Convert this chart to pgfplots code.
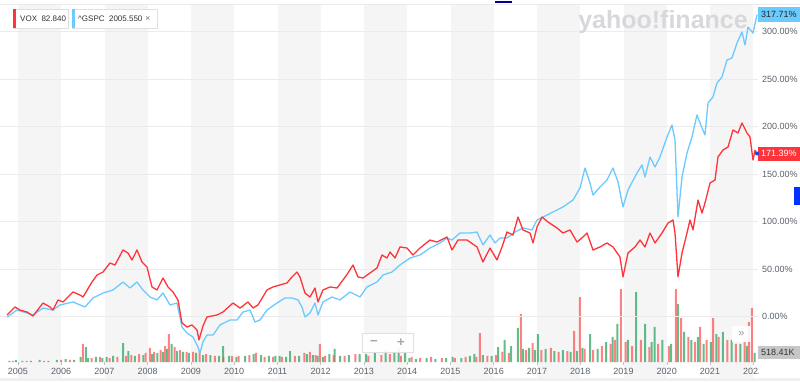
\documentclass[border=0pt]{standalone}
\usepackage{pgfplots}
\pgfplotsset{compat=1.18}
\usepackage{fontspec}
\setmainfont{Liberation Sans}
\definecolor{vox}{HTML}{FF333A}
\definecolor{spx}{HTML}{6BCBFF}
\definecolor{volg}{HTML}{1FA35A}
\definecolor{volr}{HTML}{FF4D4D}
\definecolor{band}{HTML}{F5F5F5}
\definecolor{gridc}{HTML}{EBEBEB}
\definecolor{ticktxt}{HTML}{5B636A}
\definecolor{wm}{HTML}{D8D8DC}
\begin{document}
\begin{tikzpicture}[x=1pt,y=1pt]
\path[use as bounding box] (0,-19) rectangle (800,362);
\fill[white] (0,-19) rectangle (800,362);
% alternating year bands (odd years)
\foreach \a in {18,104.5,191,277.5,364,450.5,537,623.5,710}{
  \fill[band] (\a,-16) rectangle ({\a+43.25},357);
}
\fill[gray!12] (0,-19) rectangle (800,-16);
\draw[gridc,line width=0.6pt] (0,357.5) -- (800,357.5);

% volume axis
\begin{axis}[at={(0,0)}, anchor=south west, scale only axis,
  width=758pt, height=357pt,
  xmin=2004.584, xmax=2022.110, ymin=0, ymax=20.56,
  hide axis, clip=true]
\addplot[ybar, bar width=2pt, bar shift=0pt, draw=none, fill=volg, fill opacity=0.7] coordinates {
(2004.80,0.06)(2004.95,0.12)(2005.10,0.06)(2005.30,0.06)(2005.50,0.12)(2005.70,0.06)(2005.90,0.12)(2006.10,0.17)(2006.30,0.12)
(2006.45,0.29)(2006.57,0.86)(2006.62,0.23)(2006.80,0.29)(2006.95,0.23)
(2007.05,0.29)(2007.20,0.35)(2007.43,1.09)(2007.55,0.63)(2007.70,0.35)(2007.90,0.40)
(2008.10,0.46)(2008.22,0.52)(2008.35,0.58)(2008.45,0.75)(2008.55,1.04)(2008.68,0.63)(2008.82,0.58)(2008.95,0.52)
(2009.12,0.52)(2009.28,0.40)(2009.45,0.40)(2009.65,0.35)(2009.74,0.92)(2009.88,0.35)
(2010.05,0.29)(2010.25,0.35)(2010.45,0.46)(2010.62,0.40)(2010.80,0.35)(2010.95,0.35)
(2011.05,0.35)(2011.20,0.29)(2011.29,0.63)(2011.50,0.35)(2011.68,0.46)(2011.82,0.40)(2011.93,0.35)
(2012.05,0.29)(2012.20,0.46)(2012.32,0.75)(2012.45,0.35)(2012.65,0.40)(2012.90,0.46)
(2013.05,0.46)(2013.25,0.52)(2013.50,0.69)(2013.70,0.58)(2013.80,0.81)(2013.95,0.58)
(2014.05,0.23)(2014.20,0.17)(2014.45,0.23)(2014.65,0.17)(2014.90,0.23)
(2015.05,0.29)(2015.25,0.23)(2015.45,0.35)(2015.55,0.46)(2015.75,0.40)(2015.95,0.35)
(2016.10,0.86)(2016.25,1.27)(2016.40,0.92)(2016.56,1.96)(2016.68,0.75)(2016.82,0.81)(2016.95,0.69)
(2017.02,1.61)(2017.20,0.75)(2017.40,0.63)(2017.60,0.69)(2017.78,0.58)(2017.92,0.63)
(2018.05,0.81)(2018.23,1.61)(2018.40,0.75)(2018.60,1.15)(2018.75,1.44)(2018.86,2.19)
(2019.10,1.27)(2019.29,4.03)(2019.50,2.19)(2019.65,1.15)(2019.72,2.02)(2019.90,1.27)
(2020.10,1.04)(2020.26,3.34)(2020.40,1.73)(2020.57,1.27)(2020.72,1.44)(2020.85,1.04)
(2021.02,1.15)(2021.15,1.61)(2021.30,1.73)(2021.50,1.27)(2021.70,1.04)(2021.85,0.92)(2022.03,0.52)
};
\addplot[ybar, bar width=2pt, bar shift=0pt, draw=none, fill=volr, fill opacity=0.7] coordinates {
(2004.88,0.06)(2005.20,0.06)(2005.60,0.06)(2006.00,0.12)(2006.20,0.12)
(2006.50,1.04)(2006.70,0.23)(2006.90,0.29)
(2007.12,0.23)(2007.30,0.29)(2007.50,0.35)(2007.62,0.40)(2007.80,0.46)(2007.95,0.52)
(2008.05,0.81)(2008.15,0.58)(2008.30,0.69)(2008.40,0.92)(2008.49,1.61)(2008.62,0.86)(2008.75,0.69)(2008.90,0.58)
(2009.05,0.58)(2009.20,0.69)(2009.35,0.46)(2009.55,0.35)(2009.75,0.29)(2009.95,0.35)
(2010.10,0.35)(2010.35,0.40)(2010.50,0.52)(2010.70,0.29)(2010.90,0.29)
(2011.10,0.29)(2011.40,0.35)(2011.62,0.52)(2011.75,0.58)(2011.88,0.40)(2011.98,1.04)
(2012.10,0.35)(2012.30,0.40)(2012.55,0.35)(2012.80,0.46)
(2013.10,0.35)(2013.40,0.40)(2013.60,0.46)(2013.85,0.35)
(2014.10,0.29)(2014.30,0.23)(2014.55,0.29)(2014.80,0.23)
(2015.10,0.23)(2015.35,0.29)(2015.60,0.29)(2015.68,1.67)(2015.85,0.35)
(2016.05,0.40)(2016.20,0.58)(2016.35,0.52)(2016.63,2.76)(2016.75,0.69)(2016.90,1.09)
(2017.10,0.69)(2017.32,0.81)(2017.50,0.58)(2017.70,0.63)(2017.86,1.79)(2017.99,3.74)
(2018.10,0.75)(2018.30,0.69)(2018.50,0.92)(2018.70,1.04)(2018.80,1.27)(2018.94,4.20)
(2019.05,1.15)(2019.20,0.92)(2019.40,1.27)(2019.60,0.86)(2019.80,1.04)
(2020.05,0.92)(2020.21,4.20)(2020.33,2.53)(2020.50,1.44)(2020.65,1.15)(2020.77,2.02)(2020.92,1.27)
(2021.07,2.53)(2021.20,1.44)(2021.40,1.27)(2021.60,1.04)(2021.80,1.15)(2021.90,2.30)(2021.97,3.11)
};
\end{axis}

% price axis
\begin{axis}[at={(0,0)}, anchor=south west, scale only axis,
  width=758pt, height=357pt,
  xmin=2004.584, xmax=2022.110, ymin=-47.9, ymax=327.9,
  axis line style={draw=none},
  xtick={2005,2006,2007,2008,2009,2010,2011,2012,2013,2014,2015,2016,2017,2018,2019,2020,2021,2022},
  xticklabels={2005,2006,2007,2008,2009,2010,2011,2012,2013,2014,2015,2016,2017,2018,2019,2020,2021,2022},
  xtick pos=bottom, tick align=outside, major tick length=3pt,
  xtick style={draw=ticktxt!40, line width=0.5pt},
  ytick={0,50,100,150,200,250,300},
  ytick style={draw=none},
  yticklabels={},
  ymajorgrids, major grid style={draw=gridc, line width=0.6pt},
  ticklabel style={font=\fontsize{9}{10}\selectfont, text=ticktxt},
  clip=true]
\addplot[spx, line width=1.3pt, line join=round] coordinates {
(2004.746,-0.5)(2004.977,6.8)(2005.208,3.7)(2005.347,1.6)(2005.578,8.9)(2005.809,6.8)(2005.971,12.1)
(2006.272,15.3)(2006.549,10.0)(2006.734,19.5)(2006.965,24.7)(2007.197,27.9)(2007.428,36.3)(2007.590,30.0)
(2007.751,36.3)(2007.890,27.9)(2008.052,20.5)(2008.214,17.4)(2008.353,24.7)(2008.514,12.1)(2008.676,14.2)
(2008.792,-11.1)(2008.908,-17.4)(2009.046,-21.6)(2009.162,-32.1)(2009.208,-38.4)(2009.277,-26.8)(2009.370,-19.5)
(2009.509,-19.5)(2009.671,-8.9)(2009.902,-3.7)(2010.064,-3.7)(2010.202,4.7)(2010.364,6.8)(2010.480,-5.8)
(2010.595,-3.7)(2010.757,6.8)(2010.988,14.2)(2011.173,19.5)(2011.335,19.5)(2011.474,17.4)(2011.566,10.0)
(2011.636,-0.5)(2011.751,3.7)(2011.867,14.2)(2011.936,1.6)(2012.052,15.3)(2012.260,20.5)(2012.445,17.4)
(2012.676,25.8)(2012.908,20.5)(2013.069,31.1)(2013.301,36.3)(2013.439,43.7)(2013.647,46.8)(2013.832,54.2)
(2014.064,61.6)(2014.295,64.7)(2014.526,72.1)(2014.757,77.4)(2014.919,82.6)(2015.035,80.5)(2015.220,87.9)
(2015.451,87.9)(2015.613,88.9)(2015.751,75.3)(2015.913,85.8)(2016.029,77.4)(2016.145,82.6)(2016.306,82.6)
(2016.491,88.9)(2016.676,93.2)(2016.884,91.1)(2017.000,101.6)(2017.139,104.7)(2017.370,110.0)(2017.601,115.3)
(2017.832,122.6)(2017.994,135.3)(2018.110,156.3)(2018.225,140.5)(2018.295,127.9)(2018.457,136.3)(2018.618,143.7)
(2018.757,156.3)(2018.873,141.6)(2018.988,115.3)(2019.104,133.2)(2019.312,151.1)(2019.428,159.5)(2019.497,146.8)
(2019.613,167.9)(2019.728,157.4)(2019.844,167.9)(2020.006,188.9)(2020.121,201.6)(2020.191,185.8)(2020.260,104.7)
(2020.353,146.8)(2020.468,172.1)(2020.584,188.9)(2020.699,212.1)(2020.815,198.4)(2020.884,191.1)(2020.954,224.7)
(2021.069,231.1)(2021.162,245.8)(2021.277,252.1)(2021.393,270.0)(2021.509,272.1)(2021.624,287.9)(2021.740,299.5)
(2021.809,285.8)(2021.879,304.7)(2021.994,298.4)(2022.087,317.71)
};
\addplot[vox, line width=1.3pt, line join=round] coordinates {
(2004.746,1.6)(2004.931,10.0)(2005.046,6.8)(2005.208,4.7)(2005.347,0.5)(2005.578,14.2)(2005.740,10.0)
(2005.809,6.8)(2005.925,17.4)(2006.040,15.3)(2006.272,25.8)(2006.434,22.6)(2006.503,20.5)(2006.711,36.3)
(2006.827,43.7)(2006.965,46.8)(2007.127,56.3)(2007.243,54.2)(2007.428,70.0)(2007.543,66.8)(2007.636,59.5)
(2007.751,70.0)(2007.867,57.4)(2007.983,52.1)(2008.098,31.1)(2008.214,27.9)(2008.353,40.5)(2008.468,31.1)
(2008.584,25.8)(2008.699,17.4)(2008.792,-6.8)(2008.908,-11.1)(2009.023,-8.9)(2009.139,-14.2)(2009.185,-24.7)
(2009.277,-10.0)(2009.370,-0.5)(2009.601,1.6)(2009.740,4.7)(2009.971,14.2)(2010.133,8.9)(2010.318,15.3)
(2010.434,8.9)(2010.549,12.1)(2010.757,27.9)(2010.896,31.1)(2011.058,33.2)(2011.220,35.3)(2011.335,41.6)
(2011.451,46.8)(2011.520,41.6)(2011.636,24.7)(2011.751,20.5)(2011.867,30.0)(2011.936,15.3)(2012.052,27.9)
(2012.214,31.1)(2012.376,30.0)(2012.514,38.4)(2012.630,45.8)(2012.746,54.2)(2012.861,41.6)(2012.977,40.5)
(2013.139,45.8)(2013.301,51.1)(2013.416,64.7)(2013.532,61.6)(2013.601,67.9)(2013.717,61.6)(2013.832,73.2)
(2013.994,72.1)(2014.133,64.7)(2014.295,72.1)(2014.526,80.5)(2014.688,78.4)(2014.919,83.7)(2015.035,70.0)
(2015.173,80.5)(2015.382,80.5)(2015.613,73.2)(2015.751,57.4)(2015.913,72.1)(2016.075,59.5)(2016.191,73.2)
(2016.306,88.9)(2016.445,85.8)(2016.561,104.7)(2016.676,91.1)(2016.838,87.9)(2016.908,77.4)(2017.000,94.2)
(2017.116,104.7)(2017.254,99.5)(2017.462,93.2)(2017.601,87.9)(2017.763,91.1)(2017.925,78.4)(2018.064,83.7)
(2018.156,87.9)(2018.295,70.0)(2018.457,73.2)(2018.618,77.4)(2018.757,73.2)(2018.919,62.6)(2018.988,41.6)
(2019.104,66.8)(2019.266,73.2)(2019.382,80.5)(2019.497,73.2)(2019.613,87.9)(2019.728,77.4)(2019.890,87.9)
(2020.029,98.4)(2020.145,101.6)(2020.191,87.9)(2020.260,41.6)(2020.353,66.8)(2020.468,87.9)(2020.538,101.6)
(2020.607,91.1)(2020.723,122.6)(2020.815,108.9)(2020.884,119.5)(2021.000,140.5)(2021.116,143.7)(2021.185,167.9)
(2021.301,175.3)(2021.416,178.4)(2021.532,196.3)(2021.647,193.2)(2021.740,203.7)(2021.855,193.2)(2021.925,189.0)
(2021.994,164.7)(2022.040,175.0)(2022.087,171.39)
};
\end{axis}

% right label column
\fill[white] (758.5,-16) rectangle (800,356.5);
\foreach \v/\yy in {0/0,50/47.5,100/95,150/142.5,200/190,250/237.5,300/285}{
  \node[anchor=west, inner sep=0pt, font=\fontsize{9}{10}\selectfont, text=ticktxt] at (762,{\yy+45.5}) {\v.00\%};
}
% end labels
\fill[spx] (757.5,340) rectangle (800,354.5);
\node[anchor=west, inner sep=0pt, font=\fontsize{9}{10}\selectfont, text=black!85] at (761,347.2) {317.71\%};
\fill[vox] (757.5,201.5) rectangle (800,215.5);
\node[anchor=west, inner sep=0pt, font=\fontsize{9}{10}\selectfont, text=white] at (761,208.5) {171.39\%};
\fill[blue!70!cyan] (757,208.5) circle (2pt);
\fill[gray!45] (757.5,3.5) rectangle (800,16);
\node[anchor=west, inner sep=0pt, font=\fontsize{9}{10}\selectfont, text=black!80] at (761,9.8) {518.41K};
% blue side tab
\fill[blue!80!cyan] (794,157) rectangle (800,175);
% legend chips
\fill[white] (13,334) rectangle (68,353);
\draw[gray!25, line width=0.4pt] (13,334) rectangle (68,353);
\fill[vox] (13,334) rectangle (16,353);
\node[anchor=west, inner sep=0pt, font=\fontsize{8}{9}\selectfont, text=black!80] at (20,343.5) {VOX\ \ 82.840};
\fill[white] (72,334) rectangle (157,353);
\draw[gray!25, line width=0.4pt] (72,334) rectangle (157,353);
\fill[spx] (72,334) rectangle (75,353);
\node[anchor=west, inner sep=0pt, font=\fontsize{8}{9}\selectfont, text=black!80] at (78,343.5) {\textasciicircum GSPC\ \ 2005.550};
\node[anchor=west, inner sep=0pt, font=\fontsize{9}{10}\selectfont, text=black!55] at (145,343.5) {×};
% watermark
\node[anchor=center, inner sep=0pt, font=\fontsize{25}{28}\bfseries\selectfont, text=wm] at (663,340) {yahoo!finance};
% top marker
\fill[blue!60!black] (495,358.5) rectangle (512,360.5);
% zoom controls
\fill[white, opacity=0.9] (362,10) rectangle (413,29);
\draw[gray!25] (362,10) rectangle (413,29);
\node[font=\fontsize{13}{14}\bfseries\selectfont, text=gray!70] at (374,19.5) {−};
\node[font=\fontsize{13}{14}\bfseries\selectfont, text=gray!70] at (401,19.5) {+};
\fill[white, opacity=0.9] (732,20) rectangle (751,36);
\node[font=\fontsize{11}{12}\selectfont, text=gray!80] at (741.5,28) {»};
\end{tikzpicture}
\end{document}
